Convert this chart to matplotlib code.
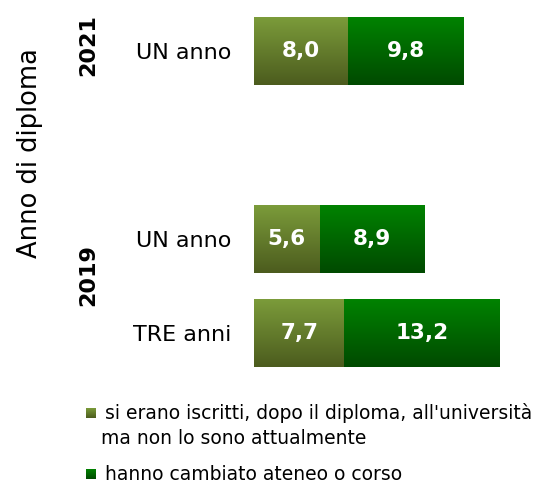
import numpy as np
import matplotlib
matplotlib.use("Agg")
import matplotlib.pyplot as plt
from matplotlib.colors import to_rgb

# data
rows = ["UN anno", "UN anno", "TRE anni"]
years = ["2021", "2019", "2019"]
positions = [0, 2, 3]  # empty slot between the two years
left_vals = [8.0, 5.6, 7.7]
right_vals = [9.8, 8.9, 13.2]
series_names = ["si erano iscritti, dopo il diploma, all'università\nma non lo sono attualmente",
                "hanno cambiato ateneo o corso"]

# gradient colours (top, bottom)
olive = ("#7b9b3a", "#4c5c1e")
green = ("#008200", "#004a00")

W, H = 550, 484
fig = plt.figure(figsize=(W / 100, H / 100), dpi=100)
plt.rcParams['font.family'] = ['DejaVu Sans']

ax = fig.add_axes([254 / W, 1 - 380 / H, (545 - 254) / W, 376 / H])
bar_h = 0.72


def grad_img(cols):
    top, bot = np.array(to_rgb(cols[0])), np.array(to_rgb(cols[1]))
    t = np.linspace(0, 1, 64)[:, None, None]
    return top * (1 - t) + bot * t


def gradient_fill(bars, cols):
    img = grad_img(cols)
    for b in bars:
        x0, y0 = b.get_x(), b.get_y()
        x1, y1 = x0 + b.get_width(), y0 + b.get_height()
        # y axis is inverted, so y0 is the visual top
        im = ax.imshow(img, extent=(x0, x1, y1, y0), origin="upper",
                       aspect="auto", zorder=2, interpolation="bilinear")
        im.set_clip_path(b)


b1 = ax.barh(positions, left_vals, height=bar_h, color=olive[1], zorder=1)
b2 = ax.barh(positions, right_vals, left=left_vals, height=bar_h, color=green[1], zorder=1)
gradient_fill(b1, olive)
gradient_fill(b2, green)

for bars, vals in ((b1, left_vals), (b2, right_vals)):
    for b, v in zip(bars, vals):
        ax.text(b.get_x() + b.get_width() / 2, b.get_y() + b.get_height() / 2,
                f"{v:.1f}".replace(".", ","), ha="center", va="center",
                color="white", fontsize=15.5, fontweight="bold", zorder=3)

ax.set_xlim(0, 291 / 11.75)
ax.set_ylim(3.5, -0.5)
ax.set_yticks(positions)
ax.set_yticklabels(rows, fontsize=16)
ax.tick_params(axis="y", length=0, pad=16)
ax.set_xticks([])
for s in ax.spines.values():
    s.set_visible(False)

# year labels and axis title
fig.text(88 / W, 1 - 45 / H, "2021", rotation=90, ha="center", va="center",
         fontsize=16, fontweight="bold")
fig.text(88 / W, 1 - 275 / H, "2019", rotation=90, ha="center", va="center",
         fontsize=16, fontweight="bold")
fig.text(30 / W, 1 - 153 / H, "Anno di diploma", rotation=90, ha="center",
         va="center", fontsize=18.5)

# legend drawn by hand so the square sits on the first line
sq = 10
legend_y = [413, 474]
for name, cols, y in zip(series_names, (olive, green), legend_y):
    lax = fig.add_axes([86 / W, 1 - (y + sq / 2) / H, sq / W, sq / H])
    lax.imshow(grad_img(cols), aspect="auto", interpolation="bilinear")
    lax.axis("off")
    first, *rest = name.split("\n")
    fig.text(105 / W, 1 - y / H, first, ha="left", va="center", fontsize=13.5)
    if rest:
        fig.text(101 / W, 1 - (y + 25) / H, rest[0], ha="left", va="center", fontsize=13.5)

fig.savefig("out.png", dpi=100)
